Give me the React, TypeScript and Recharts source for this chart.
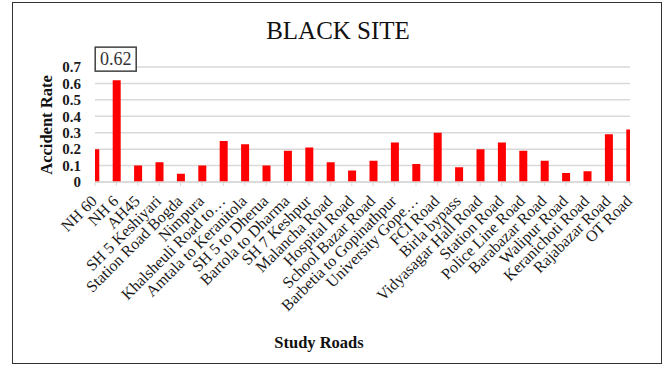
import { BarChart, Bar, XAxis, YAxis, CartesianGrid, LabelList } from "recharts";

// Accident rate per study road (black sites)
const roads = [
  "NH 60",
  "NH 6",
  "AH45",
  "SH 5 Keshiyari",
  "Station Road Bogda",
  "Nimpura",
  "Khalsheuli Road to…",
  "Amtala to Keranitola",
  "SH 5 to Dherua",
  "Bartola to Dharma",
  "SH 7 Keshpur",
  "Malancha Road",
  "Hospital Road",
  "School Bazar Road",
  "Barbetia to Gopinathpur",
  "University Gope…",
  "FCI Road",
  "Birla bypass",
  "Vidyasagar Hall Road",
  "Station Road",
  "Police Line Road",
  "Barabazar Road",
  "Walipur Road",
  "Keranichoti Road",
  "Rajabazar Road",
  "OT Road",
];

const accidentRate = [
  0.2, 0.62, 0.1, 0.12, 0.05, 0.1, 0.25, 0.23, 0.1, 0.19, 0.21, 0.12, 0.07,
  0.13, 0.24, 0.11, 0.3, 0.09, 0.2, 0.24, 0.19, 0.13, 0.055, 0.065, 0.29, 0.32,
];

const rateTicks = [0, 0.1, 0.2, 0.3, 0.4, 0.5, 0.6, 0.7];
const labelledRoads = ["NH 6"];

const data = roads.map((road, i) => ({ idx: i, road, rate: accidentRate[i] }));
const roadTicks = data.map((d) => d.idx);

const SERIF = '"Liberation Serif", "DejaVu Serif", serif';

function RoadTick(props: any) {
  const { x, y, payload } = props;
  return (
    <text
      x={x + 3}
      y={y + 14}
      transform={`rotate(-45, ${x + 3}, ${y + 14})`}
      textAnchor="end"
      fontFamily={SERIF}
      fontSize={16}
      fill="#1a1a1a"
    >
      {roads[payload.value]}
    </text>
  );
}

function RateTick(props: any) {
  const { y, payload } = props;
  return (
    <text
      x={81}
      y={y}
      dy="0.35em"
      textAnchor="end"
      fontFamily={SERIF}
      fontSize={15}
      fontWeight="bold"
      fill="#1a1a1a"
    >
      {payload.value}
    </text>
  );
}

function ValueBox(props: any) {
  const { x, y, width, value, index } = props;
  if (!labelledRoads.includes(roads[index])) return null;
  const cx = x + width / 2 - 1;
  return (
    <g>
      <rect x={cx - 20.5} y={y - 33} width={41} height={24} fill="#fff" stroke="#404040" strokeWidth={1.5} />
      <text
        x={cx}
        y={y - 21}
        dy="0.35em"
        textAnchor="middle"
        fontFamily={SERIF}
        fontSize={18}
        fill="#333"
      >
        {String(value)}
      </text>
    </g>
  );
}

export default function App() {
  return (
    <div style={{ position: "fixed", left: 0, top: 0, width: 664, height: 365, background: "#fff" }}>
      <div
        style={{
          position: "absolute",
          left: 12,
          top: 2,
          width: 648,
          height: 360,
          border: "1.5px solid #333",
        }}
      />
      <div
        style={{
          position: "absolute",
          left: 0,
          width: 676,
          top: 17,
          textAlign: "center",
          fontFamily: SERIF,
          fontSize: 25,
          color: "#111",
        }}
      >
        BLACK SITE
      </div>
      <div
        style={{
          position: "absolute",
          left: 47,
          top: 125,
          transform: "translate(-50%, -50%) rotate(-90deg)",
          whiteSpace: "nowrap",
          fontFamily: SERIF,
          fontSize: 16.5,
          fontWeight: "bold",
          color: "#111",
        }}
      >
        Accident Rate
      </div>
      <div
        style={{
          position: "absolute",
          left: 319,
          top: 343,
          transform: "translate(-50%, -50%)",
          whiteSpace: "nowrap",
          fontFamily: SERIF,
          fontSize: 16.5,
          fontWeight: "bold",
          color: "#111",
        }}
      >
        Study Roads
      </div>
      <div style={{ position: "absolute", left: 0, top: 0 }}>
        <BarChart
          width={664}
          height={365}
          data={data}
          margin={{ top: 67, right: 34, left: 0, bottom: 0 }}
        >
          <CartesianGrid vertical={false} stroke="#d9d9d9" strokeWidth={1.5} />
          <XAxis
            dataKey="idx"
            type="number"
            domain={[0, roads.length - 1]}
            ticks={roadTicks}
            interval={0}
            allowDataOverflow
            height={183}
            axisLine={{ stroke: "#d9d9d9", strokeWidth: 1.5 }}
            tickLine={{ stroke: "#d9d9d9" }}
            tickSize={4}
            tick={<RoadTick />}
          />
          <YAxis
            width={95}
            domain={[0, 0.7]}
            ticks={rateTicks}
            interval={0}
            axisLine={false}
            tickLine={false}
            tick={<RateTick />}
          />
          <Bar dataKey="rate" fill="#ff0000" barSize={8} isAnimationActive={false}>
            <LabelList dataKey="rate" content={<ValueBox />} />
          </Bar>
        </BarChart>
      </div>
    </div>
  );
}
